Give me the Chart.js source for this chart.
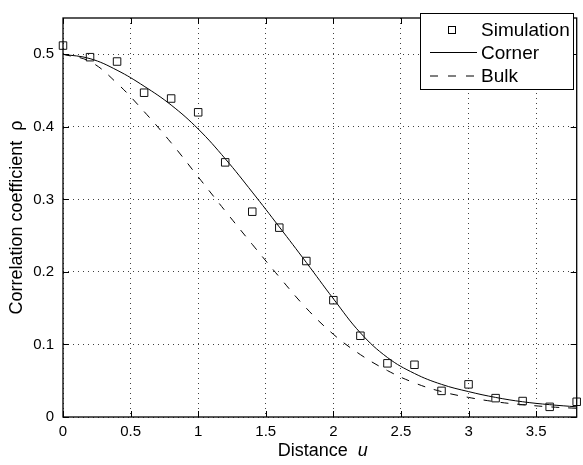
<!DOCTYPE html>
<html><head><meta charset="utf-8">
<script src="https://cdn.jsdelivr.net/npm/chart.js@4/dist/chart.umd.min.js"></script>
<style>html,body{margin:0;padding:0;background:#fff;overflow:hidden}canvas{display:block}</style>
</head><body>
<canvas id="c" width="583" height="465"></canvas>
<script>
// ---- data ----
const xValues = [0,0.2,0.4,0.6,0.8,1.0,1.2,1.4,1.6,1.8,2.0,2.2,2.4,2.6,2.8,3.0,3.2,3.4,3.6,3.8];
const simulation = [0.512,0.496,0.490,0.447,0.439,0.420,0.351,0.283,0.261,0.215,0.161,0.112,0.074,0.072,0.036,0.045,0.026,0.022,0.014,0.021];
const corner = [0.500,0.494,0.478,0.456,0.430,0.397,0.356,0.310,0.262,0.213,0.163,0.116,0.082,0.060,0.045,0.035,0.027,0.021,0.017,0.014];
const bulk = [0.500,0.490,0.460,0.421,0.378,0.331,0.284,0.238,0.193,0.150,0.114,0.086,0.064,0.047,0.035,0.027,0.021,0.017,0.014,0.012];
const xTicks = [0,0.5,1,1.5,2,2.5,3,3.5];
const yTicks = [0,0.1,0.2,0.3,0.4,0.5];
const seriesNames = ['Simulation','Corner','Bulk'];
const xTitleText = 'Distance';
const xTitleVar = 'u';
const yTitleText = 'Correlation coefficient  \u03C1';

const FONT = "'Liberation Sans', Arial, Helvetica, sans-serif";
const pts = arr => xValues.map((x,i)=>({x, y: arr[i]}));

const framePlugin = {
  id: 'frame',
  afterDraw(chart) {
    const {ctx, chartArea: a, scales} = chart;
    ctx.save();
    ctx.strokeStyle = '#000';
    ctx.lineWidth = 1.3;
    ctx.setLineDash([]);
    ctx.strokeRect(a.left, a.top, a.right - a.left, a.bottom - a.top);
    const tl = 6;
    ctx.lineWidth = 1;
    ctx.beginPath();
    scales.x.ticks.forEach(t => {
      const px = Math.round(scales.x.getPixelForValue(t.value)) + 0.5;
      ctx.moveTo(px, a.bottom); ctx.lineTo(px, a.bottom - tl);
      ctx.moveTo(px, a.top); ctx.lineTo(px, a.top + tl);
    });
    scales.y.ticks.forEach(t => {
      const py = Math.round(scales.y.getPixelForValue(t.value)) + 0.5;
      ctx.moveTo(a.left, py); ctx.lineTo(a.left + tl, py);
      ctx.moveTo(a.right, py); ctx.lineTo(a.right - tl, py);
    });
    ctx.stroke();

    // axis titles
    ctx.fillStyle = '#000';
    ctx.textBaseline = 'middle';
    ctx.font = '18px ' + FONT;
    const w1 = ctx.measureText(xTitleText + '  ').width;
    ctx.font = 'italic 18px ' + FONT;
    const w2 = ctx.measureText(xTitleVar).width;
    let sx = (a.left + a.right) / 2 - (w1 + w2) / 2 + 3;
    ctx.textAlign = 'left';
    ctx.font = '18px ' + FONT;
    ctx.fillText(xTitleText, sx, 451);
    ctx.font = 'italic 18px ' + FONT;
    ctx.fillText(xTitleVar, sx + w1, 451);

    ctx.save();
    ctx.translate(17, (a.top + a.bottom) / 2);
    ctx.rotate(-Math.PI / 2);
    ctx.textAlign = 'center';
    ctx.font = '18px ' + FONT;
    ctx.fillText(yTitleText, 0, 0);
    ctx.restore();

    // legend
    const L = {x: 420, y: 13, w: 153, h: 76};
    ctx.fillStyle = '#fff';
    ctx.fillRect(L.x, L.y, L.w, L.h);
    ctx.strokeStyle = '#000';
    ctx.lineWidth = 1;
    ctx.strokeRect(L.x + 0.5, L.y + 0.5, L.w, L.h);
    const rows = [30, 52.5, 76];
    ctx.strokeRect(448.5, rows[0] - 3.5, 7, 7);
    ctx.beginPath(); ctx.moveTo(430, rows[1]); ctx.lineTo(477, rows[1]); ctx.stroke();
    ctx.setLineDash([8, 10]);
    ctx.beginPath(); ctx.moveTo(430, rows[2]); ctx.lineTo(477, rows[2]); ctx.stroke();
    ctx.setLineDash([]);
    ctx.fillStyle = '#000';
    ctx.font = '19px ' + FONT;
    ctx.textAlign = 'left';
    seriesNames.forEach((n, i) => ctx.fillText(n, 481, rows[i] + 1));
    ctx.restore();
  }
};

new Chart(document.getElementById('c'), {
  type: 'scatter',
  data: {
    datasets: [
      {label: seriesNames[0], data: pts(simulation), showLine: false, pointStyle: 'rect', pointRadius: 5.3,
       pointBorderWidth: 1, pointBorderColor: '#111', pointBackgroundColor: 'rgba(0,0,0,0)', clip: false, order: 0},
      {label: seriesNames[1], data: pts(corner), showLine: true, pointRadius: 0, borderColor: '#000', borderWidth: 1,
       tension: 0.4, fill: false, order: 1},
      {label: seriesNames[2], data: pts(bulk), showLine: true, pointRadius: 0, borderColor: '#000', borderWidth: 1,
       borderDash: [8, 9], tension: 0.4, fill: false, order: 2}
    ]
  },
  options: {
    responsive: false,
    devicePixelRatio: 1,
    animation: false,
    events: [],
    layout: {padding: {top: 5, right: 1, left: 0, bottom: 0}},
    plugins: {legend: {display: false}, tooltip: {enabled: false}},
    scales: {
      x: {
        type: 'linear', min: 0, max: 3.8,
        afterBuildTicks: s => { s.ticks = xTicks.map(v => ({value: v})); },
        afterFit: s => { s.height = 48; },
        grid: {color: 'rgba(0,0,0,0.75)', lineWidth: 1, drawTicks: false},
        border: {display: false, dash: [1, 4]},
        ticks: {padding: 6, color: '#000', font: {family: FONT, size: 15, lineHeight: 1.2},
                maxRotation: 0, autoSkip: false, callback: v => String(v)}
      },
      y: {
        type: 'linear', min: 0, max: 0.55,
        afterBuildTicks: s => { s.ticks = yTicks.map(v => ({value: v})); },
        afterFit: s => { s.width = 63; },
        grid: {color: 'rgba(0,0,0,0.75)', lineWidth: 1, drawTicks: false},
        border: {display: false, dash: [1, 4]},
        ticks: {padding: 9, color: '#000', font: {family: FONT, size: 15}, callback: v => String(v)}
      }
    }
  },
  plugins: [framePlugin]
});
</script>
</body></html>
